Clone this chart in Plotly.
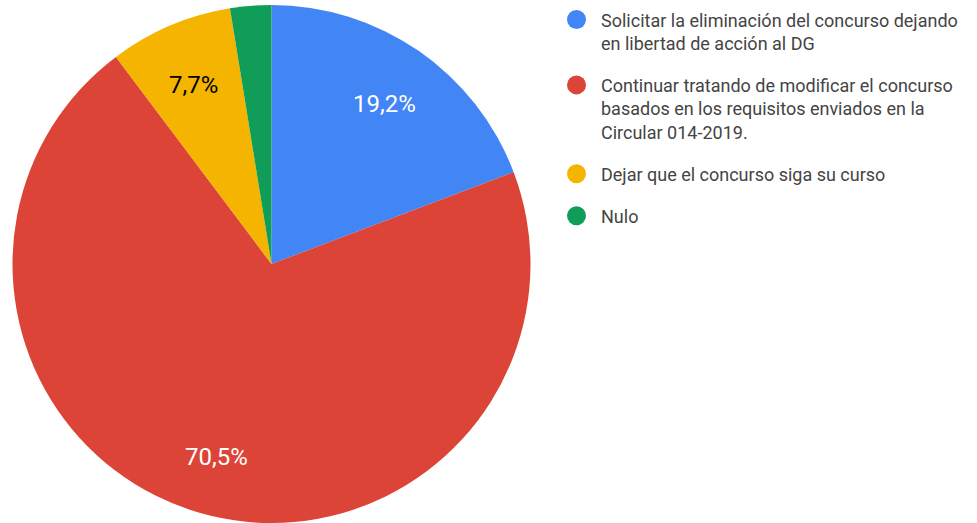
import math
import plotly.graph_objects as go

# ---- data ----
categories = [
    "Solicitar la eliminación del concurso dejando<br>en libertad de acción al DG",
    "Continuar tratando de modificar el concurso<br>basados en los requisitos enviados en la<br>Circular 014-2019.",
    "Dejar que el concurso siga su curso",
    "Nulo",
]
values = [15, 55, 6, 2]

# ---- style ----
colors = ["#4285F4", "#DB4437", "#F4B400", "#0F9D58"]
label_font_colors = ["#ffffff", "#ffffff", "#000000", "#ffffff"]
W, H = 977, 523
FONT = "Roboto, Arial, sans-serif"
LEGEND_COLOR = "#444444"

# pie geometry (pixels)
dom_x = [12 / W, 531 / W]
dom_y = [0.0, 1 - 5 / H]
r = min((dom_x[1] - dom_x[0]) * W, (dom_y[1] - dom_y[0]) * H) / 2
cx = (dom_x[0] + dom_x[1]) / 2 * W
cy = (1 - (dom_y[0] + dom_y[1]) / 2) * H  # from top

fig = go.Figure()
fig.add_trace(go.Pie(
    labels=[c.replace("<br>", " ") for c in categories],
    values=values,
    marker=dict(colors=colors, line=dict(width=0)),
    sort=False,
    direction="clockwise",
    rotation=0,
    textinfo="none",
    showlegend=False,
    domain=dict(x=dom_x, y=dom_y),
    hoverinfo="label+percent",
))

annotations = []
shapes = []

# slice labels from data
total = sum(values)
cum = 0.0
for v, fc in zip(values, label_font_colors):
    frac = v / total
    mid = 2 * math.pi * (cum + frac / 2)
    cum += frac
    if frac < 0.05:
        continue
    f = 0.765
    px = cx + f * r * math.sin(mid)
    py = cy - f * r * math.cos(mid) + 3
    annotations.append(dict(
        x=px / W, y=1 - py / H, xref="paper", yref="paper",
        text=f"{100 * frac:.1f}".replace(".", ",") + "%",
        showarrow=False, xanchor="center", yanchor="middle",
        font=dict(family=FONT, size=24, color=fc),
    ))

# custom legend
LINE = 23.4
FS = 18
y_first = 20.5
circle_x = 576.5
cr = 9.5
text_x = 599
for cat, col in zip(categories, colors):
    n = cat.count("<br>") + 1
    block_center = y_first + (n - 1) * LINE / 2
    annotations.append(dict(
        x=text_x / W, y=1 - block_center / H, xref="paper", yref="paper",
        text=cat, showarrow=False, xanchor="left", yanchor="middle",
        align="left", font=dict(family=FONT, size=FS, color=LEGEND_COLOR),
    ))
    ccy = y_first - 1.0
    shapes.append(dict(
        type="circle", xref="paper", yref="paper",
        x0=(circle_x - cr) / W, x1=(circle_x + cr) / W,
        y0=1 - (ccy + cr) / H, y1=1 - (ccy - cr) / H,
        fillcolor=col, line=dict(width=0),
    ))
    y_first = y_first + (n - 1) * LINE + 42

fig.update_layout(
    width=W, height=H,
    margin=dict(l=0, r=0, t=0, b=0),
    paper_bgcolor="#ffffff",
    plot_bgcolor="#ffffff",
    annotations=annotations,
    shapes=shapes,
    font=dict(family=FONT),
)

fig.write_html(
    "out.html",
    config={"displayModeBar": False},
    post_script="document.body.style.margin='0px';document.body.style.overflow='hidden';",
)
